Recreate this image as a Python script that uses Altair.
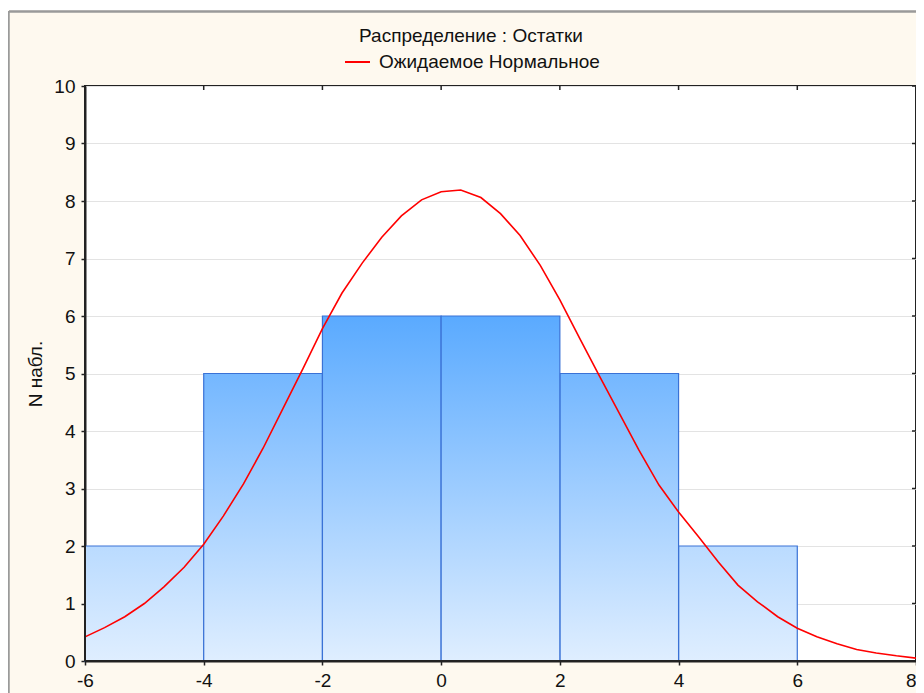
import altair as alt
import pandas as pd

# Histogram bins and counts
bin_start = [-6, -4, -2, 0, 2, 4]
bin_end = [-4, -2, 0, 2, 4, 6]
counts = [2, 5, 6, 6, 5, 2]

# Expected normal curve
curve_x = [-6.0, -5.67, -5.33, -5.0, -4.67, -4.33, -4.0, -3.67, -3.33, -3.0, -2.67, -2.33,
           -2.0, -1.67, -1.33, -1.0, -0.67, -0.33, 0.0, 0.33, 0.67, 1.0, 1.33, 1.67, 2.0,
           2.33, 2.67, 3.0, 3.33, 3.67, 4.0, 4.33, 4.67, 5.0, 5.33, 5.67, 6.0, 6.33, 6.67,
           7.0, 7.33, 7.67, 8.0]
curve_y = [0.42, 0.58, 0.77, 1.0, 1.29, 1.63, 2.03, 2.52, 3.08, 3.70, 4.38, 5.08,
           5.78, 6.40, 6.92, 7.37, 7.74, 8.02, 8.16, 8.19, 8.06, 7.78, 7.40, 6.88, 6.28,
           5.62, 4.95, 4.31, 3.67, 3.06, 2.59, 2.17, 1.72, 1.32, 1.03, 0.77, 0.57, 0.42, 0.30,
           0.20, 0.14, 0.09, 0.05]

x_ticks = [-6, -4, -2, 0, 2, 4, 6, 8]
y_ticks = [0, 1, 2, 3, 4, 5, 6, 7, 8, 9, 10]

title_text = ["Распределение : Остатки"]
legend_text = ["Ожидаемое Нормальное"]
y_title = "N набл."

W, H = 831, 575
FONT = "Liberation Sans"
FS = 19

bars = pd.DataFrame({"x0": bin_start, "x1": bin_end, "n": counts})
curve = pd.DataFrame({"x": curve_x, "y": curve_y})
xt = pd.DataFrame({"v": x_ticks})
yt = pd.DataFrame({"v": y_ticks})

xscale = alt.Scale(domain=[-6, 8], nice=False, zero=False)
yscale = alt.Scale(domain=[0, 10], nice=False)

bottom_col = "#DFEEFF"
top_cols = {2: "#BADBFF", 5: "#74B7FF", 6: "#5AAAFF"}

def grad(top):
    return alt.Gradient(
        gradient="linear",
        stops=[alt.GradientStop(color=top, offset=0), alt.GradientStop(color=bottom_col, offset=1)],
        x1=0, x2=0, y1=0, y2=1,
    )

base_x = alt.X("x0:Q", scale=xscale,
               axis=alt.Axis(values=x_ticks, title=None, grid=False, tickSize=4, tickColor="#222",
                             tickWidth=1.5, labelPadding=6, labelFontSize=FS, labelFont=FONT,
                             labelColor="#111", domainColor="#222", domainWidth=2,
                             labelExpr="toString(datum.value)",
                             labelAlign={"condition": {"test": f"datum.value == {x_ticks[-1]}", "value": "right"},
                                         "value": "center"},
                             labelFlush=False, labelOverlap=False))
base_y = alt.Y("n:Q", scale=yscale,
               axis=alt.Axis(values=y_ticks, title=y_title, grid=True, gridColor="#E3E3E3",
                             tickSize=4, tickColor="#222", tickWidth=1.5, labelPadding=6,
                             labelFontSize=FS, labelFont=FONT, labelColor="#111",
                             labelExpr="toString(datum.value)",
                             domainColor="#222", domainWidth=2, titleFont=FONT, titleFontSize=FS,
                             titleFontWeight="normal", titleColor="#111", titleX=-50, titleY=H / 2,
                             titleAngle=270, titleBaseline="middle", titleAlign="center",
                             labelFlush=False, labelOverlap=False))

layers = []
for h, col in top_cols.items():
    layers.append(
        alt.Chart(bars).transform_filter(alt.datum.n == h).mark_rect(
            fill=grad(col), stroke="#3A72D6", strokeWidth=1.2
        ).encode(x=base_x, x2="x1:Q", y=base_y, y2=alt.datum(0))
    )

line = alt.Chart(curve).mark_line(color="#FF0000", strokeWidth=1.6).encode(
    x=alt.X("x:Q", scale=xscale), y=alt.Y("y:Q", scale=yscale)
)

bottom_domain = alt.Chart(xt.head(1)).mark_rule(color="#222", strokeWidth=2).encode(
    x=alt.value(0), x2=alt.value(W), y=alt.value(H)
)
left_domain = alt.Chart(xt.head(1)).mark_rule(color="#222", strokeWidth=2).encode(
    x=alt.value(0), y=alt.value(0), y2=alt.value(H)
)

top_ticks = alt.Chart(xt).mark_rule(color="#222", strokeWidth=1.5).encode(
    x=alt.X("v:Q", scale=xscale), y=alt.value(0), y2=alt.value(4)
)
right_ticks = alt.Chart(yt).mark_rule(color="#222", strokeWidth=1.5).encode(
    y=alt.Y("v:Q", scale=yscale), x=alt.value(W - 4), x2=alt.value(W)
)

title = alt.Chart(pd.DataFrame({"t": title_text})).mark_text(
    font=FONT, fontSize=FS, color="#111", align="center", baseline="middle"
).encode(x=alt.value(386), y=alt.value(-50), text="t:N")

leg_line = alt.Chart(pd.DataFrame({"t": legend_text})).mark_rule(color="#FF0000", strokeWidth=2).encode(
    x=alt.value(260), x2=alt.value(285), y=alt.value(-24)
)
leg_text = alt.Chart(pd.DataFrame({"t": legend_text})).mark_text(
    font=FONT, fontSize=FS, color="#111", align="left", baseline="middle"
).encode(x=alt.value(294), y=alt.value(-24), text="t:N")

# window frame
frame_top_white = alt.Chart(xt.head(1)).mark_rule(color="#FFFFFF", strokeWidth=3).encode(
    x=alt.value(-80), x2=alt.value(W + 20), y=alt.value(-77)
)
frame_top = alt.Chart(xt.head(1)).mark_rule(color="#9A9A9A", strokeWidth=2.5).encode(
    x=alt.value(-76), x2=alt.value(W + 20), y=alt.value(-74.5)
)
frame_left = alt.Chart(xt.head(1)).mark_rule(color="#9A9A9A", strokeWidth=2.5).encode(
    x=alt.value(-76.5), y=alt.value(-75), y2=alt.value(H + 50)
)

chart = alt.layer(
    *layers, line, bottom_domain, left_domain, top_ticks, right_ticks, title, leg_line, leg_text,
    frame_top_white, frame_top, frame_left
).properties(
    width=W, height=H,
    autosize=alt.AutoSizeParams(type="none"),
    padding={"left": 77, "top": 78, "right": 0, "bottom": 40},
    background="#FEF9EF",
).configure_view(
    fill="#FFFFFF", stroke="#222", strokeWidth=2
)

chart.save("out.html", embed_options={"renderer": "svg", "actions": False})
